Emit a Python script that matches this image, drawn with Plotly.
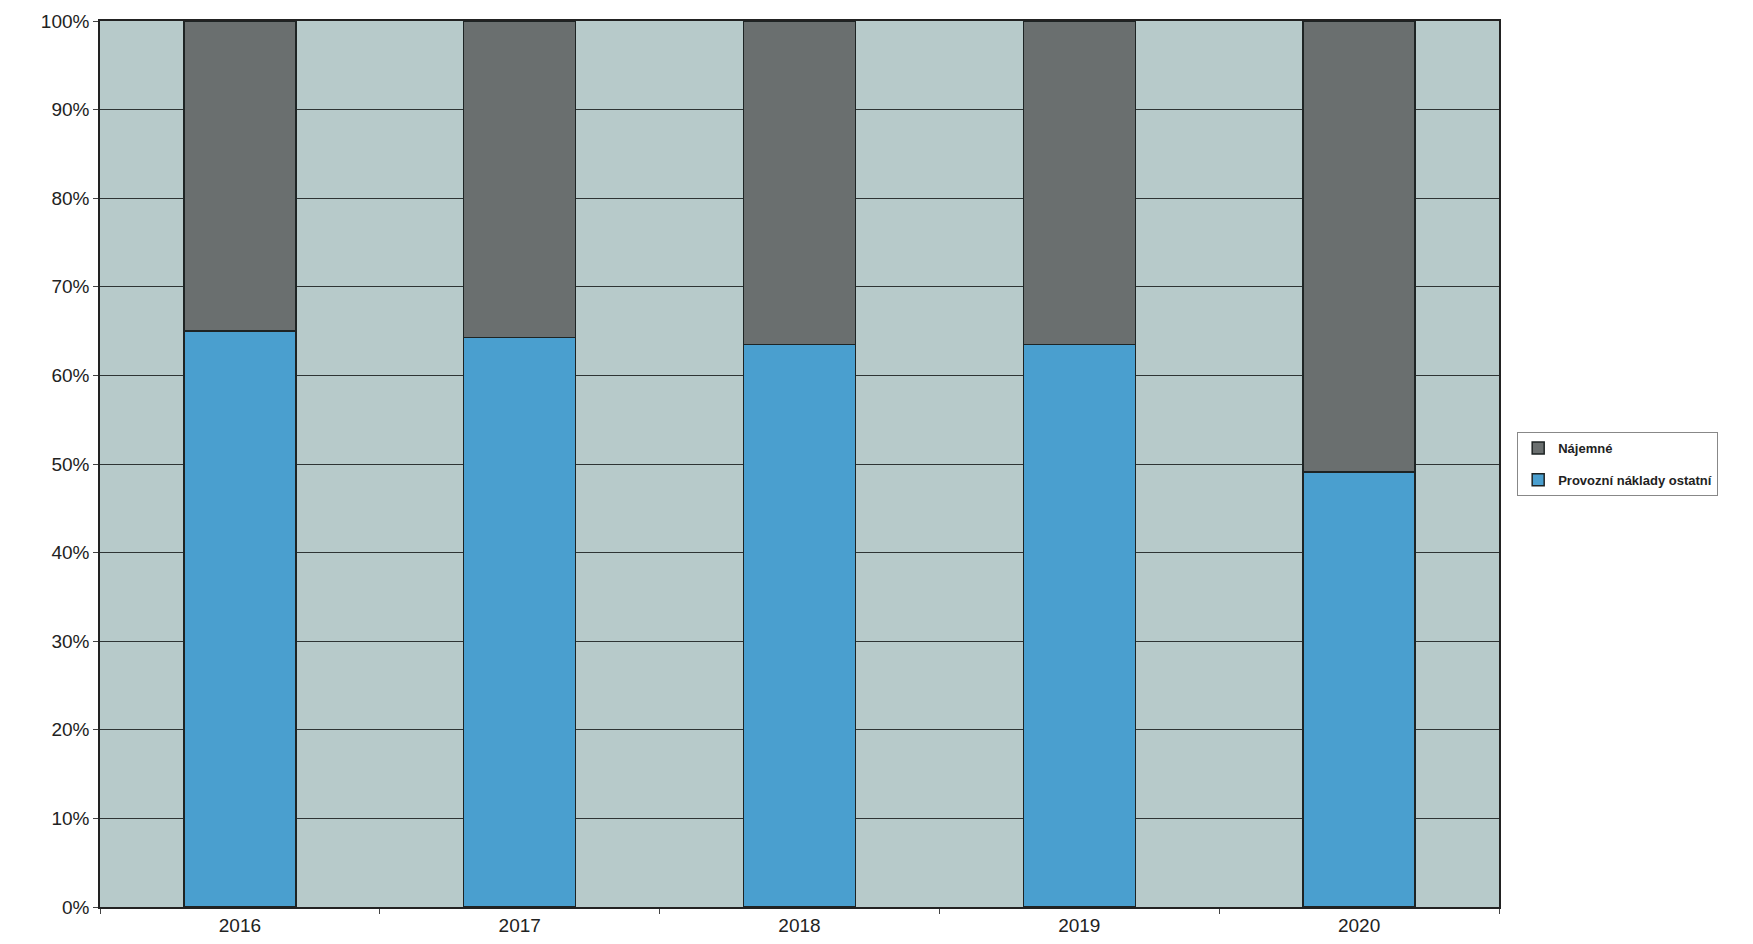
import plotly.graph_objects as go

years = ["2016", "2017", "2018", "2019", "2020"]
provozni = [65.0, 64.3, 63.5, 63.5, 49.1]
najemne = [35.0, 35.7, 36.5, 36.5, 50.9]
y_ticks = [0, 10, 20, 30, 40, 50, 60, 70, 80, 90, 100]
y_tick_labels = [f"{v}%" for v in y_ticks]

fig = go.Figure()
fig.add_trace(go.Bar(
    x=years, y=provozni, name="Provozní náklady ostatní", legendgroup="b", legendrank=2,
    marker=dict(color="#4a9fcf", line=dict(color="#1e2424", width=1.5)),
))
fig.add_trace(go.Bar(
    x=years, y=najemne, name="Nájemné", legendgroup="a", legendrank=1,
    marker=dict(color="#6a6f6f", line=dict(color="#1e2424", width=1.5)),
))

fig.update_layout(
    width=1753, height=944,
    barmode="stack", bargap=0.6,
    paper_bgcolor="white", plot_bgcolor="#b7caca",
    margin=dict(l=92, r=262, t=13, b=45, autoexpand=False),
    font=dict(family="Liberation Sans, Arial, sans-serif", color="#222"),
    legend=dict(
        x=1.013, y=0.5, xanchor="left", yanchor="middle",
        bordercolor="#888", borderwidth=1, bgcolor="white",
        font=dict(size=13, color="#222", family="Liberation Sans, Arial, sans-serif", weight="bold"),
        itemwidth=30, tracegroupgap=12, traceorder="grouped",
    ),
    showlegend=True,
)
fig.update_yaxes(
    range=[0, 100], tickvals=y_ticks, ticktext=y_tick_labels,
    showgrid=True, gridcolor="#2e3434", gridwidth=1,
    showline=True, linecolor="#222", linewidth=1.5, mirror=True,
    ticks="outside", ticklen=5, tickcolor="#444",
    tickfont=dict(size=19, color="#222"),
    zeroline=False, automargin=False,
)
fig.update_xaxes(
    showgrid=False, showline=True, linecolor="#222", linewidth=1.5, mirror=True,
    ticks="outside", ticklen=5, tickcolor="#444", tickson="boundaries",
    tickfont=dict(size=19, color="#222"), automargin=False,
)

fig.write_html("out.html")
